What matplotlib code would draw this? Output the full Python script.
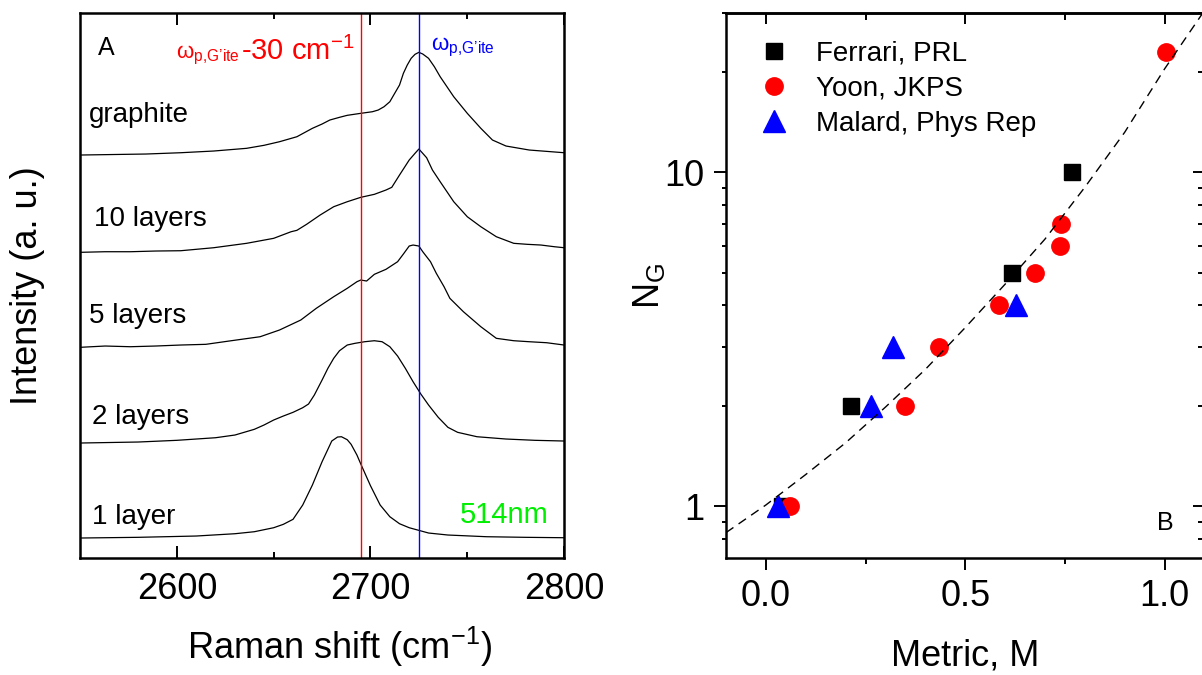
import numpy as np
import matplotlib
matplotlib.use("Agg")
import matplotlib.pyplot as plt

plt.rcParams['font.family'] = ['Liberation Sans', 'DejaVu Sans']
plt.rcParams['mathtext.fontset'] = 'custom'
plt.rcParams['mathtext.rm'] = 'Liberation Sans'
plt.rcParams['mathtext.it'] = 'Liberation Sans:italic'

# ---- panel A: Raman 2D band spectra ----
labels_a = ['1 layer', '2 layers', '5 layers', '10 layers', 'graphite']
offsets = [0.20, 1.15, 2.11, 3.05, 4.03]

w_1l = [2550, 2580, 2610, 2630, 2640, 2650, 2655, 2660, 2665, 2670, 2675, 2680, 2683,
        2685, 2688, 2690, 2693, 2695, 2700, 2705, 2710, 2715, 2720, 2730, 2740, 2760,
        2780, 2800]
i_1l = [0.0, 0.007, 0.02, 0.043, 0.063, 0.103, 0.137, 0.187, 0.33, 0.53, 0.763, 0.97, 1.01,
        1.013, 0.983, 0.937, 0.83, 0.74, 0.523, 0.33, 0.213, 0.143, 0.103, 0.05, 0.03, 0.013,
        0.007, 0.003]

w_2l = [2550, 2580, 2600, 2620, 2630, 2640, 2645, 2650, 2655, 2660, 2665, 2668, 2671,
        2675, 2678, 2681, 2684, 2688, 2692, 2697, 2702, 2706, 2710, 2714, 2718, 2722,
        2726, 2730, 2735, 2740, 2745, 2755, 2770, 2785, 2800]
i_2l = [0.0, 0.01, 0.027, 0.053, 0.08, 0.137, 0.18, 0.23, 0.27, 0.307, 0.353, 0.39, 0.48,
        0.63, 0.747, 0.847, 0.923, 0.98, 0.997, 1.013, 1.023, 1.013, 0.963, 0.87, 0.747, 0.613,
        0.49, 0.38, 0.257, 0.157, 0.107, 0.063, 0.04, 0.027, 0.02]

w_5l = [2550, 2563, 2576, 2589, 2602, 2615, 2627, 2643, 2653, 2664, 2672, 2681, 2688,
        2693, 2695, 2698, 2702, 2708, 2714, 2717, 2720, 2722, 2725, 2727, 2731, 2734,
        2738, 2741, 2748, 2757, 2765, 2774, 2782, 2791, 2800]
i_5l = [-0.003, 0.01, 0.003, 0.01, 0.02, 0.027, 0.06, 0.103, 0.17, 0.27, 0.387, 0.503, 0.587,
        0.653, 0.67, 0.66, 0.727, 0.777, 0.853, 0.93, 1.01, 1.02, 1.01, 0.953, 0.853, 0.737,
        0.603, 0.487, 0.353, 0.203, 0.087, 0.063, 0.053, 0.043, 0.02]

w_10l = [2550, 2563, 2576, 2589, 2602, 2619, 2636, 2650, 2659, 2662, 2667, 2674, 2681,
         2688, 2695, 2702, 2708, 2711, 2715, 2720, 2723, 2725, 2729, 2732, 2736, 2743,
         2750, 2757, 2765, 2774, 2781, 2788, 2795, 2800]
i_10l = [0.007, 0.013, 0.013, 0.02, 0.023, 0.053, 0.097, 0.147, 0.213, 0.227, 0.287, 0.38,
         0.463, 0.513, 0.557, 0.587, 0.63, 0.657, 0.78, 0.93, 0.997, 1.04, 0.953, 0.83, 0.713,
         0.513, 0.363, 0.263, 0.163, 0.097, 0.087, 0.08, 0.063, 0.053]

w_gr = [2550, 2584, 2602, 2619, 2636, 2645, 2653, 2662, 2670, 2675, 2679, 2684, 2688,
        2695, 2701, 2704, 2707, 2710, 2712, 2715, 2717, 2719, 2721, 2723, 2725, 2727,
        2730, 2733, 2736, 2743, 2750, 2757, 2763, 2770, 2782, 2800]
i_gr = [0.0, 0.01, 0.023, 0.04, 0.067, 0.097, 0.133, 0.183, 0.267, 0.31, 0.35, 0.377, 0.397,
        0.417, 0.433, 0.45, 0.483, 0.533, 0.60, 0.70, 0.817, 0.90, 0.967, 1.007, 1.027, 1.01,
        0.967, 0.883, 0.783, 0.583, 0.417, 0.267, 0.15, 0.09, 0.05, 0.023]

spectra_w = [w_1l, w_2l, w_5l, w_10l, w_gr]
spectra_i = [i_1l, i_2l, i_5l, i_10l, i_gr]

w_gite = 2725
w_shift = 30

# ---- panel B: number of layers vs metric ----
ferrari_m = [0.04, 0.213, 0.617, 0.769]
ferrari_n = [1, 2, 5, 10]
yoon_m = [0.06, 0.349, 0.435, 0.585, 0.676, 0.738, 0.740, 1.003]
yoon_n = [1, 2, 3, 4, 5, 6, 7, 23]
malard_m = [0.031, 0.264, 0.319, 0.627]
malard_n = [1, 2, 3, 4]
fit_m = [-0.1, 0.0, 0.1, 0.2, 0.3, 0.4, 0.5, 0.6, 0.7, 0.8, 0.9, 1.0, 1.1]
fit_n = [0.834, 1.009, 1.245, 1.549, 1.982, 2.570, 3.428, 4.624, 6.31, 9.02, 13.18, 20.4, 30.5]

fig = plt.figure(figsize=(12.02, 6.75), dpi=100)

# left panel
ax1 = fig.add_axes([0.0666, 0.1733, 0.4027, 0.8074])
for w, inten, off in zip(spectra_w, spectra_i, offsets):
    ax1.plot(w, np.array(inten) + off, color='black', lw=0.9)
ax1.axvline(w_gite - w_shift, color='red', lw=1.0)
ax1.axvline(w_gite, color='blue', lw=1.0)
ax1.set_xlim(2550, 2800)
ax1.set_ylim(0, 5.45)
ax1.set_xticks([2600, 2700, 2800])
ax1.set_xticks([2650, 2750], minor=True)
ax1.set_yticks([])
ax1.tick_params(axis='x', which='both', direction='in', top=True, width=1.4, labelsize=26, pad=10)
ax1.tick_params(axis='x', which='major', length=8.4)
ax1.tick_params(axis='x', which='minor', length=4.5)
for s in ax1.spines.values():
    s.set_linewidth(1.8)
ax1.set_xlabel('Raman shift (cm$^{-1}$)', fontsize=26)
ax1.xaxis.set_label_coords(0.537, -0.122)
ax1.set_ylabel('Intensity (a. u.)', fontsize=26)
ax1.yaxis.set_label_coords(-0.072, 0.5)

label_pos = [(0.0253, 0.0618), (0.0253, 0.2453), (0.0182, 0.4306), (0.0289, 0.6097), (0.0182, 0.80)]
for lab, (tx, ty) in zip(labels_a, label_pos):
    ax1.text(tx, ty, lab, transform=ax1.transAxes, fontsize=20, va='baseline')
ax1.text(0.0364, 0.9229, 'A', transform=ax1.transAxes, fontsize=18, va='baseline')
omega_lab = "$\\mathregular{\\omega_{p{,}G\u2019ite}}$"
ax1.text(0.198, 0.917, omega_lab, transform=ax1.transAxes,
         fontsize=16, color='red', va='baseline')
ax1.text(0.3326, 0.9138, "-30 cm$\\mathregular{^{-1}}$", transform=ax1.transAxes,
         fontsize=21, color='red', va='baseline')
ax1.text(0.7242, 0.932, omega_lab, transform=ax1.transAxes,
         fontsize=16, color='blue', va='baseline')
ax1.text(0.9676, 0.0637, '514nm', transform=ax1.transAxes, fontsize=21, color='#00ee00',
         ha='right', va='baseline')

# right panel
ax2 = fig.add_axes([0.604, 0.1733, 0.398, 0.8074])
ax2.set_yscale('log')
ax2.plot(ferrari_m, ferrari_n, 's', color='black', ms=11.5, mec='black', label='Ferrari, PRL', zorder=3)
ax2.plot(yoon_m, yoon_n, 'o', color='red', ms=12.5, mec='red', label='Yoon, JKPS', zorder=3)
ax2.plot(malard_m, malard_n, '^', color='blue', ms=15.5, mec='blue', label='Malard, Phys Rep', zorder=3)
ax2.plot(fit_m, fit_n, color='black', lw=1.0, dashes=(6.5, 4.5), zorder=4)
ax2.set_xlim(-0.1, 1.1)
ax2.set_ylim(0.7, 30)
ax2.set_xticks([0.0, 0.5, 1.0])
ax2.set_xticklabels(['0.0', '0.5', '1.0'])
ax2.set_xticks([0.25, 0.75], minor=True)
ax2.set_yticks([1, 10])
ax2.set_yticklabels(['1', '10'])
y_minor = [0.8, 0.9, 2, 3, 4, 5, 6, 7, 8, 9, 20, 30]
ax2.set_yticks(y_minor, minor=True)
ax2.yaxis.set_minor_formatter(matplotlib.ticker.NullFormatter())
ax2.tick_params(which='both', direction='out', width=1.4, labelsize=26)
ax2.tick_params(axis='x', which='major', length=8.4, pad=7)
ax2.tick_params(axis='x', which='minor', length=4.5)
ax2.tick_params(axis='y', which='major', length=8.4, pad=7)
ax2.tick_params(axis='y', which='minor', length=3.0)
for s in ax2.spines.values():
    s.set_linewidth(1.8)

top = ax2.secondary_xaxis('top')
top.set_xticks([0.0, 0.5, 1.0])
top.set_xticks([0.25, 0.75], minor=True)
top.tick_params(which='both', direction='in', width=1.4, labeltop=False)
top.tick_params(which='major', length=8.0)
top.tick_params(which='minor', length=4.8)
top.spines['top'].set_linewidth(1.8)

right = ax2.secondary_yaxis('right')
right.set_yticks([1, 10])
right.set_yticks(y_minor, minor=True)
right.yaxis.set_minor_formatter(matplotlib.ticker.NullFormatter())
right.tick_params(which='both', direction='in', width=1.4, labelright=False)
right.tick_params(which='major', length=8.0)
right.tick_params(which='minor', length=4.0)

ax2.set_xlabel('Metric, M', fontsize=26)
ax2.xaxis.set_label_coords(0.5, -0.147)
ax2.set_ylabel('N$_\\mathregular{G}$', fontsize=26)
ax2.yaxis.set_label_coords(-0.123, 0.5)
ax2.text(0.9003, 0.0514, 'B', transform=ax2.transAxes, fontsize=18, va='baseline')

ax2.legend(loc='upper left', bbox_to_anchor=(0.071, 0.949), frameon=False, fontsize=20,
           numpoints=1, handlelength=1.0, handletextpad=1.0, labelspacing=0.32,
           borderaxespad=0, borderpad=0)

fig.savefig('out.png', dpi=100)
